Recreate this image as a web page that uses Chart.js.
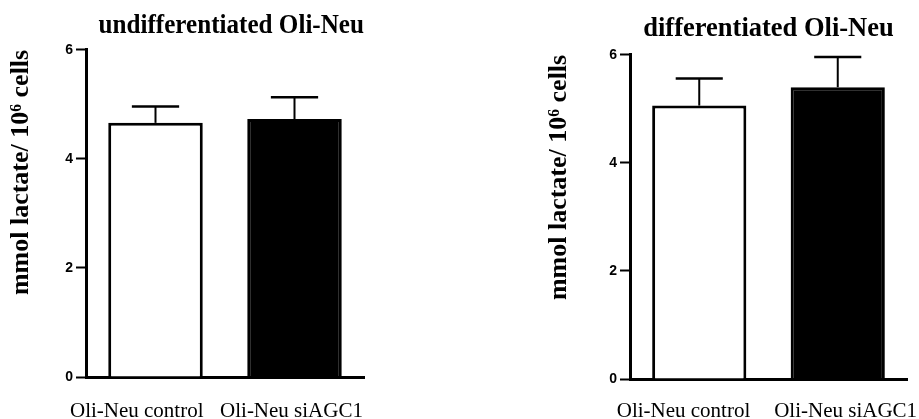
<!DOCTYPE html>
<html>
<head>
<meta charset="utf-8">
<script src="https://cdn.jsdelivr.net/npm/chart.js@4"></script>
<style>
  html, body { margin: 0; padding: 0; background: #fff; overflow: hidden; }
  .panel { position: absolute; top: 0; height: 419px; }
</style>
</head>
<body>
<div class="panel" id="panelLeft" style="left:0;width:459px"><canvas id="chartLeft"></canvas></div>
<div class="panel" id="panelRight" style="left:460px;width:459px"><canvas id="chartRight"></canvas></div>
<script>
// Data
const categories = ['Oli-Neu control', 'Oli-Neu siAGC1'];
const panelTitles = ['undifferentiated Oli-Neu', 'differentiated Oli-Neu'];
const yAxisTitle = 'mmol lactate/ 10\u2076 cells';
const yTicks = [0, 2, 4, 6];

const undiffMeans = [4.66, 4.73];
const undiffErrors = [0.30, 0.40];
const diffMeans = [5.06, 5.40];
const diffErrors = [0.50, 0.56];

(function () {
  const SERIF = '"Liberation Serif", "Times New Roman", serif';
  const SANS = '"Liberation Sans", Arial, sans-serif';

  // draws the upper half of the SEM bars on top of each bar
  const errorBars = {
    id: 'errorBars',
    afterDatasetsDraw(chart) {
      const ctx = chart.ctx;
      const yScale = chart.scales.y;
      chart.data.datasets.forEach((ds, di) => {
        const meta = chart.getDatasetMeta(di);
        meta.data.forEach((bar, i) => {
          const top = yScale.getPixelForValue(ds.data[i] + ds.errors[i]);
          const half = bar.width / 4;
          ctx.save();
          ctx.strokeStyle = '#000';
          ctx.lineWidth = 2;
          ctx.beginPath();
          ctx.moveTo(bar.x, bar.y);
          ctx.lineTo(bar.x, top);
          ctx.stroke();
          ctx.lineWidth = 2.5;
          ctx.beginPath();
          ctx.moveTo(bar.x - half, top);
          ctx.lineTo(bar.x + half, top);
          ctx.stroke();
          ctx.restore();
        });
      });
    }
  };

  // the category labels in the figure sit a little apart from the bar centres,
  // so pad them with spaces (before / after) to nudge them sideways
  function padLabel(text, before, after) {
    return ' '.repeat(before) + text + ' '.repeat(after);
  }

  function drawPanel(canvasId, title, means, errors, lay) {
    return new Chart(document.getElementById(canvasId), {
      type: 'bar',
      data: {
        labels: categories,
        datasets: [{
          data: means,
          errors: errors,
          backgroundColor: ['#ffffff', '#000000'],
          borderColor: '#000',
          borderWidth: 3,
          barPercentage: 0.68,
          categoryPercentage: 1.0
        }]
      },
      options: {
        responsive: true,
        maintainAspectRatio: false,
        animation: false,
        layout: { padding: { left: 0, right: lay.padRight, top: 0, bottom: 0 } },
        plugins: {
          legend: { display: false },
          tooltip: { enabled: false },
          title: {
            display: true,
            text: padLabel(title, lay.titleLead, 0),
            fullSize: false,
            color: '#000',
            font: { family: SERIF, size: 26.5, weight: 'bold', lineHeight: 1.2 },
            padding: lay.titlePad
          }
        },
        scales: {
          x: {
            grid: { display: false },
            border: { display: true, color: '#000', width: 3 },
            ticks: {
              color: '#000',
              autoSkip: false,
              maxRotation: 0,
              padding: lay.xTickPad,
              labelOffset: lay.labelShift,
              font: { family: SERIF, size: 21, lineHeight: 1.2 },
              callback: (v, i) => padLabel(categories[i], lay.labelPad[i][0], lay.labelPad[i][1])
            },
            afterFit: (s) => { s.height = lay.xHeight; s.paddingLeft = 0; s.paddingRight = 0; }
          },
          y: {
            min: 0,
            max: 6,
            afterBuildTicks: (s) => { s.ticks = yTicks.map(v => ({ value: v })); },
            grid: {
              drawOnChartArea: false,
              drawTicks: true,
              tickLength: 10,
              tickWidth: 2,
              tickColor: '#000'
            },
            border: { display: true, color: '#000', width: 3 },
            ticks: {
              color: '#000',
              padding: 3,
              font: { family: SANS, size: 14, weight: 'bold' }
            },
            title: {
              display: true,
              text: yAxisTitle,
              align: 'end',
              color: '#000',
              padding: { top: lay.yTitlePad, bottom: 0 },
              font: { family: SERIF, size: 26, weight: 'bold', lineHeight: 1.2 }
            },
            afterFit: (s) => { s.width = lay.yWidth; }
          }
        }
      },
      plugins: [errorBars]
    });
  }

  drawPanel('chartLeft', panelTitles[0], undiffMeans, undiffErrors, {
    padRight: 95, yWidth: 86, xHeight: 42, xTickPad: 14,
    labelShift: -3, labelPad: [[0, 6], [0, 0]],
    titleLead: 2, titlePad: { top: 10, bottom: 8 }, yTitlePad: 6
  });
  drawPanel('chartRight', panelTitles[1], diffMeans, diffErrors, {
    padRight: 12, yWidth: 170, xHeight: 40, xTickPad: 12,
    labelShift: 0, labelPad: [[0, 6], [3, 0]],
    titleLead: 0, titlePad: { top: 13, bottom: 10 }, yTitlePad: 84
  });
})();
</script>
</body>
</html>
